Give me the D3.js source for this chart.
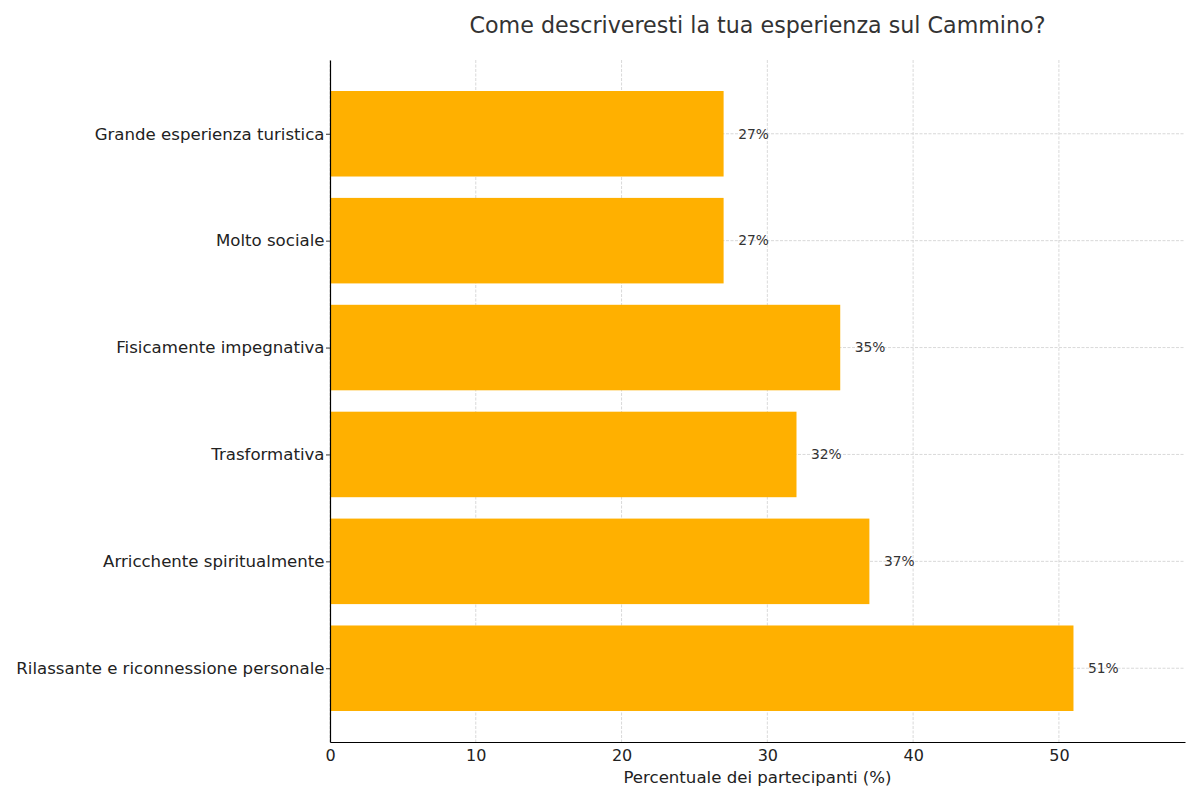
<!DOCTYPE html>
<html>
<head>
<meta charset="utf-8">
<script src="https://cdn.jsdelivr.net/npm/d3@7"></script>
<style>
  body { margin: 0; background: #fff; }
  svg { font-family: "DejaVu Sans", sans-serif; }
</style>
</head>
<body>
<svg width="1200" height="800"></svg>
<script>
// dati
const categories = [
    "Grande esperienza turistica",
    "Molto sociale",
    "Fisicamente impegnativa",
    "Trasformativa",
    "Arricchente spiritualmente",
    "Rilassante e riconnessione personale"
];
const values = [27, 27, 35, 32, 37, 51];
const xTicks = [0, 10, 20, 30, 40, 50];

const title = "Come descriveresti la tua esperienza sul Cammino?";
const xLabel = "Percentuale dei partecipanti (%)";

function drawChart() {

    var margin = { top: 60, right: 15, bottom: 58, left: 330 };
    var width = 1200 - margin.left - margin.right;
    var height = 800 - margin.top - margin.bottom;

    var svg = d3.select("svg");

    var g = svg.append("g")
        .attr("transform", "translate(" + margin.left + "," + margin.top + ")");

    var x = d3.scaleLinear()
        .domain([0, d3.max(values) * 1.15])
        .range([0, width]);

    // indice delle barre, come matplotlib (margine 5%)
    var y = d3.scaleLinear()
        .domain([-0.69, categories.length - 1 + 0.69])
        .range([0, height]);

    var barH = y(0.8) - y(0);

    // griglia
    g.append("g")
        .selectAll("line")
        .data(xTicks)
        .join("line")
        .attr("x1", d => x(d))
        .attr("x2", d => x(d))
        .attr("y1", 0)
        .attr("y2", height)
        .attr("stroke", "#cfcfcf")
        .attr("stroke-width", 0.8)
        .attr("stroke-dasharray", "3,1.5");

    g.append("g")
        .selectAll("line")
        .data(categories)
        .join("line")
        .attr("x1", 0)
        .attr("x2", width)
        .attr("y1", (d, i) => y(i))
        .attr("y2", (d, i) => y(i))
        .attr("stroke", "#cfcfcf")
        .attr("stroke-width", 0.8)
        .attr("stroke-dasharray", "3,1.5");

    // barre
    g.append("g")
        .selectAll("rect")
        .data(values)
        .join("rect")
        .attr("x", x(0))
        .attr("y", (d, i) => y(i) - barH / 2)
        .attr("width", d => x(d) - x(0))
        .attr("height", barH)
        .attr("fill", "#FFB000");

    // etichette valori
    g.append("g")
        .selectAll("text")
        .data(values)
        .join("text")
        .attr("x", d => x(d + 1))
        .attr("y", (d, i) => y(i))
        .attr("dy", "0.35em")
        .attr("font-size", 13.8)
        .attr("fill", "#333")
        .text(d => d + "%");

    // asse x
    var xAxis = g.append("g")
        .attr("transform", "translate(0," + height + ")")
        .call(d3.axisBottom(x).tickValues(xTicks).tickSize(0).tickPadding(8));
    xAxis.select(".domain").attr("stroke", "#000").attr("stroke-width", 1.2);
    xAxis.selectAll("text").attr("font-size", 16).attr("fill", "#222")
        .attr("font-family", "DejaVu Sans");

    // asse y
    var yAxis = g.append("g")
        .call(d3.axisLeft(y)
            .tickValues(d3.range(categories.length))
            .tickFormat(i => categories[i])
            .tickSize(4).tickSizeOuter(0).tickPadding(1.5));
    yAxis.select(".domain").attr("stroke", "#000").attr("stroke-width", 1.2);
    yAxis.selectAll(".tick line").attr("stroke", "#333");
    yAxis.selectAll("text").attr("font-size", 16.6).attr("fill", "#222")
        .attr("font-family", "DejaVu Sans");

    // titolo
    svg.append("text")
        .attr("x", margin.left + width / 2)
        .attr("y", 33)
        .attr("text-anchor", "middle")
        .attr("font-size", 22.2)
        .attr("fill", "#333")
        .text(title);

    svg.append("text")
        .attr("x", margin.left + width / 2)
        .attr("y", 783)
        .attr("text-anchor", "middle")
        .attr("font-size", 16.6)
        .attr("fill", "#222")
        .text(xLabel);
}

drawChart();
</script>
</body>
</html>
